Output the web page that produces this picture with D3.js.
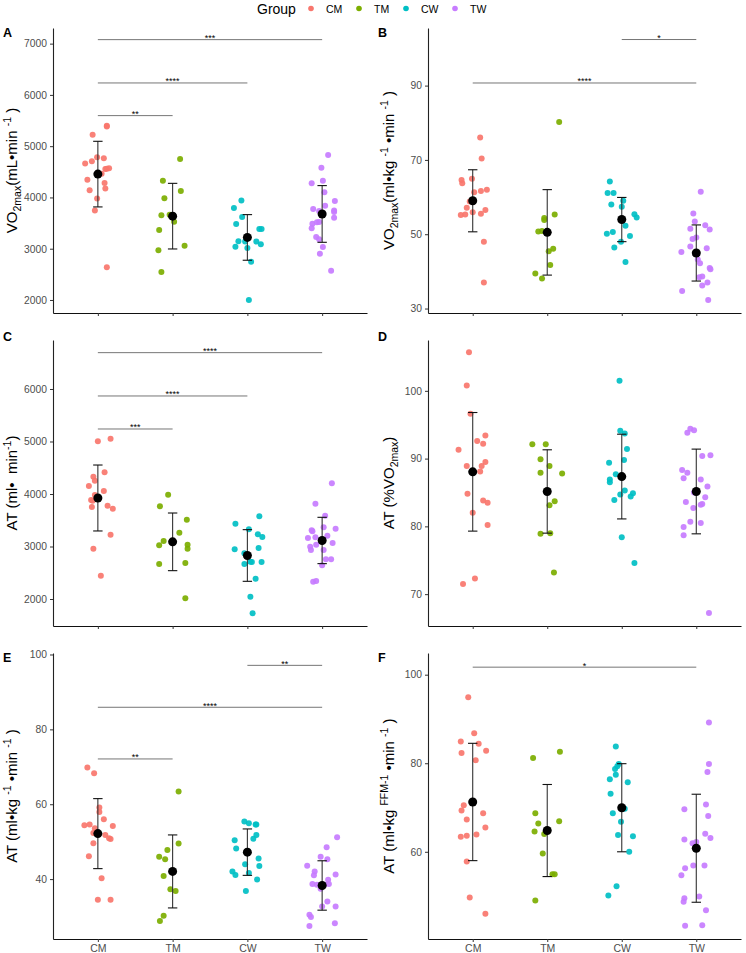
<!DOCTYPE html>
<html><head><meta charset="utf-8">
<script src="https://cdn.jsdelivr.net/npm/d3@7"></script>
<style>body{margin:0;background:#fff}svg{display:block;font-family:"Liberation Sans",Arial,sans-serif}</style>
</head><body>
<script>
const categories = ["CM","TM","CW","TW"];
const groupColors = ["#F8766D","#7CAE00","#00BFC4","#C77CFF"];

// Panel A: VO2max (mL/min)
const A_values = [
  [5225,5400,5385,4660,4705,4783,4763,4555,4562,4568,4460,4347,4282,4172,4140,3977,3743,2637],
  [4750,4328,4126,3983,3651,3664,3528,3365,3060,2969,2546],
  [3938,3795,3619,3482,3385,3385,3144,3140,3140,3088,3040,3014,2748,2000],
  [4828,4581,4276,4328,4100,3931,3775,3735,3840,3743,3717,3606,3489,3515,3522,3398,3229,3183,3034,2904,2572]
];
const A_jitter = [
  [-0.07,0.12,0.12,-0.17,-0.08,-0.01,0.08,0.10,0.12,0.15,0.05,-0.14,0.09,0.10,-0.11,-0.01,-0.04,0.12],
  [0.10,-0.13,0.11,-0.11,-0.15,-0.04,0.02,-0.18,0.16,-0.19,-0.15],
  [-0.08,-0.18,-0.07,-0.15,0.16,0.19,-0.12,-0.03,0.12,0.18,-0.16,0.00,0.05,0.02],
  [0.08,-0.01,-0.14,0.01,0.03,0.17,-0.12,-0.04,0.04,0.16,0.16,0.16,-0.13,-0.07,-0.04,-0.14,-0.08,-0.04,0.01,-0.03,0.12]
];
const A_mean = [4455,3635,3220,3678];
const A_sd = [640,640,445,553];
const A_brackets = [[0,3,7078,"***"],[0,2,6233,"****"],[0,1,5596,"**"]];
const A_ticks = [2000,3000,4000,5000,6000,7000];

// Panel B: VO2max (ml/kg/min)
const B_values = [
  [76.0,70.4,64.6,63.7,64.9,61.3,61.6,62.0,58.8,57.1,56.5,55.9,55.2,55.3,55.5,48.0,37.0],
  [80.2,55.3,53.8,54.4,50.7,50.9,46.1,45.4,41.7,39.4,38.1],
  [64.2,61.1,61.1,59.0,58.0,57.4,55.4,54.5,52.3,50.6,50.1,49.5,48.0,46.4,42.5],
  [61.4,55.6,53.4,52.4,51.5,51.3,49.1,48.7,46.7,46.2,45.2,43.2,42.2,40.9,40.6,38.6,38.4,37.0,36.2,34.7,32.3]
];
const B_jitter = [
  [0.10,0.12,-0.15,-0.14,-0.01,0.02,0.11,0.19,-0.04,-0.08,0.17,0.00,-0.16,-0.10,0.11,0.15,0.15],
  [0.16,0.10,-0.04,-0.04,-0.12,-0.07,0.08,0.02,0.04,-0.16,-0.07],
  [-0.16,-0.19,-0.11,0.02,-0.14,0.00,0.17,0.20,0.05,-0.12,-0.20,0.11,-0.01,-0.10,0.05],
  [0.06,-0.04,-0.02,0.12,-0.08,0.18,0.00,-0.05,-0.08,0.14,-0.20,0.02,0.05,0.18,0.19,0.08,0.04,0.15,0.08,-0.19,0.16]
];
const B_mean = [59.0,50.5,53.95,44.95];
const B_sd = [8.35,11.5,5.95,7.55];
const B_brackets = [[2,3,102.4,"*"],[0,3,90.7,"****"]];
const B_ticks = [30,50,70,90];

// Panel C: AT (ml/min)
const C_values = [
  [5003,5054,4330,4254,4152,4413,4057,3981,3886,3873,3752,3778,3721,3225,2959,2444],
  [3987,3765,3511,3263,3105,3022,3035,2959,2686,2667,2013],
  [3575,3435,3327,3232,3181,2971,2946,2870,2667,2711,2705,2705,2387,2044,1727],
  [4203,3816,3587,3365,3340,3308,3289,3175,3206,3162,3067,3035,2997,2933,2933,2641,2756,2756,2330,2343]
];
const C_jitter = [
  [0.00,0.17,-0.06,-0.04,-0.12,0.09,0.08,-0.04,-0.09,-0.07,-0.08,0.13,0.20,0.17,-0.06,0.04],
  [-0.06,-0.17,0.19,0.09,-0.12,-0.18,0.20,0.20,0.17,-0.18,0.17],
  [0.16,-0.16,0.02,0.14,0.20,0.15,-0.17,-0.04,-0.04,0.04,0.06,0.19,0.11,0.04,0.07],
  [0.13,-0.09,0.04,0.02,0.18,-0.14,-0.13,-0.09,0.07,-0.19,0.14,-0.08,-0.16,-0.15,0.02,0.00,0.05,0.12,-0.12,-0.08]
];
const C_mean = [3924,3089,2829,3115];
const C_sd = [628,549,492,441];
const C_brackets = [[0,3,6692,"****"],[0,2,5867,"****"],[0,1,5238,"***"]];
const C_ticks = [2000,3000,4000,5000,6000];

// Panel D: AT (%VO2max)
const D_values = [
  [105.7,100.8,96.6,92.6,93.4,92.2,91.3,89.5,88.9,88.9,88.1,84.8,83.8,83.5,82.0,80.2,72.3,71.5],
  [92.1,92.1,89.9,88.9,87.9,87.8,83.7,83.1,78.9,79.0,73.2],
  [101.5,94.1,93.7,91.4,89.4,89.8,87.7,86.9,86.5,85.3,84.9,84.4,84.7,83.9,78.4,74.6],
  [94.4,94.2,93.8,90.4,90.5,88.3,87.9,87.1,86.9,85.9,85.0,84.3,83.6,83.2,83.3,82.7,80.7,80.5,79.9,78.7,67.2]
];
const D_jitter = [
  [-0.05,-0.08,-0.03,0.06,0.17,0.14,-0.19,0.17,-0.08,0.12,0.10,-0.07,0.14,0.20,0.00,0.20,0.03,-0.13],
  [-0.20,-0.02,-0.09,0.03,-0.09,0.20,0.10,0.03,-0.09,0.04,0.09],
  [-0.03,-0.02,0.04,0.07,-0.17,0.03,-0.08,-0.16,-0.16,0.04,0.15,0.12,-0.02,-0.10,0.00,0.17],
  [-0.08,-0.03,-0.12,0.08,0.19,-0.19,-0.12,-0.17,0.06,0.15,-0.03,0.12,-0.14,0.06,0.08,-0.04,-0.08,0.06,-0.17,-0.17,0.17]
];
const D_mean = [88.05,85.15,87.35,85.15];
const D_sd = [8.75,6.15,6.25,6.25];
const D_brackets = [];
const D_ticks = [70,80,90,100];

// Panel E: AT (ml/kg/min)
const E_values = [
  [69.8,68.3,59.1,57.9,56.0,54.4,54.6,53.6,54.2,52.3,51.8,50.9,50.7,49.6,46.1,40.2,34.5,34.5],
  [63.4,49.5,47.8,46.0,45.3,40.8,37.3,36.8,30.2,28.8],
  [55.4,54.9,54.6,54.6,51.8,50.8,50.4,48.2,45.5,43.5,44.0,42.0,41.1,41.6,39.9,36.8],
  [51.2,48.5,46.0,45.3,43.6,42.0,41.0,41.2,39.8,38.7,38.5,38.5,38.7,37.4,34.0,32.7,32.7,30.5,29.9,28.2,27.5]
];
const E_jitter = [
  [-0.14,-0.05,0.02,0.02,0.08,-0.18,-0.11,-0.04,0.20,-0.06,0.10,0.15,0.17,-0.06,-0.12,0.05,0.00,0.17],
  [0.08,0.08,-0.07,-0.18,-0.10,-0.12,-0.03,0.04,-0.12,-0.17],
  [-0.04,0.02,0.11,0.12,0.12,0.08,-0.17,-0.15,0.15,0.16,-0.03,-0.20,-0.16,0.02,0.13,-0.02],
  [0.20,0.06,-0.02,0.07,-0.20,-0.10,-0.11,0.18,0.08,-0.13,-0.07,0.03,0.09,-0.02,0.07,0.00,0.18,-0.17,-0.15,0.17,-0.17]
];
const E_mean = [52.15,42.05,47.2,38.3];
const E_sd = [9.35,9.75,6.2,6.6];
const E_brackets = [[2,3,97.1,"**"],[0,3,85.9,"****"],[0,1,72.1,"**"]];
const E_ticks = [40,60,80,100];

// Panel F: AT (ml/kg FFM/min)
const F_values = [
  [94.9,86.8,84.9,84.4,82.3,82.8,80.7,70.5,69.3,68.7,67.3,65.5,63.9,63.4,63.6,57.8,49.7,46.0],
  [81.2,82.6,68.7,66.9,66.4,64.6,64.0,59.6,54.9,54.9,49.0],
  [83.8,79.8,79.3,78.7,77.4,76.4,75.7,73.1,68.7,69.7,66.8,63.8,63.5,60.0,52.2,50.1],
  [89.2,79.8,78.0,70.7,69.6,68.1,64.1,63.1,62.8,61.9,62.2,56.9,56.9,56.3,54.7,49.9,49.5,48.7,46.8,43.3,43.4]
];
const F_jitter = [
  [-0.06,0.02,-0.16,0.08,-0.15,0.18,0.04,-0.12,-0.15,0.14,-0.08,0.17,0.05,-0.16,-0.08,-0.08,-0.04,0.17],
  [-0.19,0.17,-0.16,0.16,-0.12,-0.17,-0.04,-0.06,0.07,0.10,-0.16],
  [-0.08,-0.04,-0.06,-0.09,-0.08,-0.16,0.08,-0.15,-0.12,0.04,-0.01,-0.05,0.15,0.10,-0.07,-0.18],
  [0.17,0.17,0.15,0.13,-0.16,0.16,0.12,0.19,-0.16,-0.05,0.00,-0.04,0.11,-0.15,-0.20,0.04,-0.16,-0.17,0.13,-0.15,0.08]
];
const F_mean = [71.25,64.8,69.95,60.8];
const F_sd = [13.25,10.4,9.95,12.2];
const F_brackets = [[0,3,101.7,"*"]];
const F_ticks = [60,80,100];

const panels = [
  {letter:"A", col:0, row:0, domain:[1746,7305], ticks:A_ticks, values:A_values, jitter:A_jitter, mean:A_mean, sd:A_sd, brackets:A_brackets,
   title:[["VO","n"],["2max","sub"],["(mL•min ","n"],["-1","sup"],[" )","n"]]},
  {letter:"B", col:1, row:0, domain:[28.8,105.5], ticks:B_ticks, values:B_values, jitter:B_jitter, mean:B_mean, sd:B_sd, brackets:B_brackets,
   title:[["VO","n"],["2max","sub"],["(ml•kg ","n"],["-1","sup"],[" •min ","n"],["-1","sup"],[" )","n"]]},
  {letter:"C", col:0, row:1, domain:[1486,6933], ticks:C_ticks, values:C_values, jitter:C_jitter, mean:C_mean, sd:C_sd, brackets:C_brackets,
   title:[["AT (ml•  min","n"],["-1","sup"],[")","n"]]},
  {letter:"D", col:1, row:1, domain:[65.3,107.5], ticks:D_ticks, values:D_values, jitter:D_jitter, mean:D_mean, sd:D_sd, brackets:D_brackets,
   title:[["AT (%VO","n"],["2max","sub"],[")","n"]]},
  {letter:"E", col:0, row:2, domain:[24.0,100.4], ticks:E_ticks, values:E_values, jitter:E_jitter, mean:E_mean, sd:E_sd, brackets:E_brackets,
   title:[["AT (ml•kg ","n"],["-1","sup"],[" •min ","n"],["-1","sup"],[" )","n"]]},
  {letter:"F", col:1, row:2, domain:[40.3,104.9], ticks:F_ticks, values:F_values, jitter:F_jitter, mean:F_mean, sd:F_sd, brackets:F_brackets,
   title:[["AT (ml•kg ","n"],["FFM-1","sup"],[" •min ","n"],["-1","sup"],[" )","n"]]}
];

const W = 746, H = 953;
const colX = [[53,367],[428,741]];
const rowY = [[28,313],[340,626],[653,939]];
const titleX = [17,394];
const letterX = [3,378];
const letterY = [37,341,662];

const svg = d3.select("body").append("svg").attr("width",W).attr("height",H);

// legend
const leg = svg.append("g");
leg.append("text").attr("x",257).attr("y",13.5).attr("font-size",14).attr("fill","#000").text("Group");
const legX = [311,359,406,455];
categories.forEach((c,i)=>{
  leg.append("circle").attr("cx",legX[i]).attr("cy",8.5).attr("r",2.8).attr("fill",groupColors[i]);
  leg.append("text").attr("x",legX[i]+15).attr("y",12.5).attr("font-size",10.5).attr("fill","#000").text(c);
});

panels.forEach(p=>{
  const [x0,x1] = colX[p.col];
  const [y0,y1] = rowY[p.row];
  const x = d3.scalePoint().domain(categories).range([x0,x1]).padding(0.6);
  const step = x.step();
  const y = d3.scaleLinear().domain(p.domain).range([y1,y0]);
  const g = svg.append("g");

  // y axis
  const ya = g.append("g").attr("transform",`translate(${x0},0)`)
    .call(d3.axisLeft(y).tickValues(p.ticks).tickSize(3).tickSizeOuter(0).tickPadding(3).tickFormat(d3.format("d")));
  ya.select(".domain").attr("stroke","#222").attr("stroke-width",1.1);
  ya.selectAll(".tick line").attr("stroke","#333");
  ya.selectAll(".tick text").attr("fill","#4D4D4D").attr("font-size",10.3).attr("font-family","Liberation Sans, Arial, sans-serif");

  // x axis
  const xa = g.append("g").attr("transform",`translate(0,${y1})`)
    .call(d3.axisBottom(x).tickSize(3).tickSizeOuter(0).tickPadding(3));
  xa.select(".domain").attr("stroke","#111").attr("stroke-width",1.2);
  xa.selectAll(".tick line").attr("stroke","#333");
  xa.selectAll(".tick text").attr("fill","#4D4D4D").attr("font-size",10.5).attr("font-family","Liberation Sans, Arial, sans-serif");
  if (p.row !== 2) xa.selectAll(".tick text").remove();

  // points
  categories.forEach((c,i)=>{
    g.append("g").selectAll("circle").data(p.values[i]).join("circle")
      .attr("cx",(d,j)=>x(c)+p.jitter[i][j]*step)
      .attr("cy",d=>y(d))
      .attr("r",3)
      .attr("fill",groupColors[i])
      .attr("fill-opacity",0.92);
  });

  // error bars + means
  categories.forEach((c,i)=>{
    const cx = x(c);
    const lo = y(p.mean[i]-p.sd[i]), hi = y(p.mean[i]+p.sd[i]);
    g.append("line").attr("x1",cx).attr("x2",cx).attr("y1",lo).attr("y2",hi).attr("stroke","#333").attr("stroke-width",1.1);
    g.append("line").attr("x1",cx-4.7).attr("x2",cx+4.7).attr("y1",lo).attr("y2",lo).attr("stroke","#111").attr("stroke-width",1.1);
    g.append("line").attr("x1",cx-4.7).attr("x2",cx+4.7).attr("y1",hi).attr("y2",hi).attr("stroke","#111").attr("stroke-width",1.1);
    g.append("circle").attr("cx",cx).attr("cy",y(p.mean[i])).attr("r",4.5).attr("fill","#000");
  });

  // significance brackets
  p.brackets.forEach(([a,b,v,lab])=>{
    const yy = y(v);
    g.append("line").attr("x1",x(categories[a])).attr("x2",x(categories[b])).attr("y1",yy).attr("y2",yy)
      .attr("stroke","#666").attr("stroke-width",0.9);
    g.append("text").attr("x",(x(categories[a])+x(categories[b]))/2).attr("y",yy+1.5)
      .attr("text-anchor","middle").attr("font-size",9).attr("fill","#000").text(lab);
  });

  // panel letter
  svg.append("text").attr("x",letterX[p.col]).attr("y",letterY[p.row]).attr("font-size",12.5)
    .attr("font-weight","bold").attr("fill","#000").text(p.letter);

  // y title
  const ty = (y0+y1)/2;
  const t = svg.append("text").attr("transform",`translate(${titleX[p.col]},${ty}) rotate(-90)`)
    .attr("text-anchor","middle").attr("font-size",15).attr("fill","#000").style("white-space","pre");
  let shift = 0;
  p.title.forEach(([txt,type])=>{
    const ts = t.append("tspan").text(txt);
    let target = 0;
    if (type==="sup") { ts.attr("font-size",10.5); target = -6; }
    else if (type==="sub") { ts.attr("font-size",10.5); target = 3.5; }
    ts.attr("dy", target - shift);
    shift = target;
  });
});
</script>
</body></html>
